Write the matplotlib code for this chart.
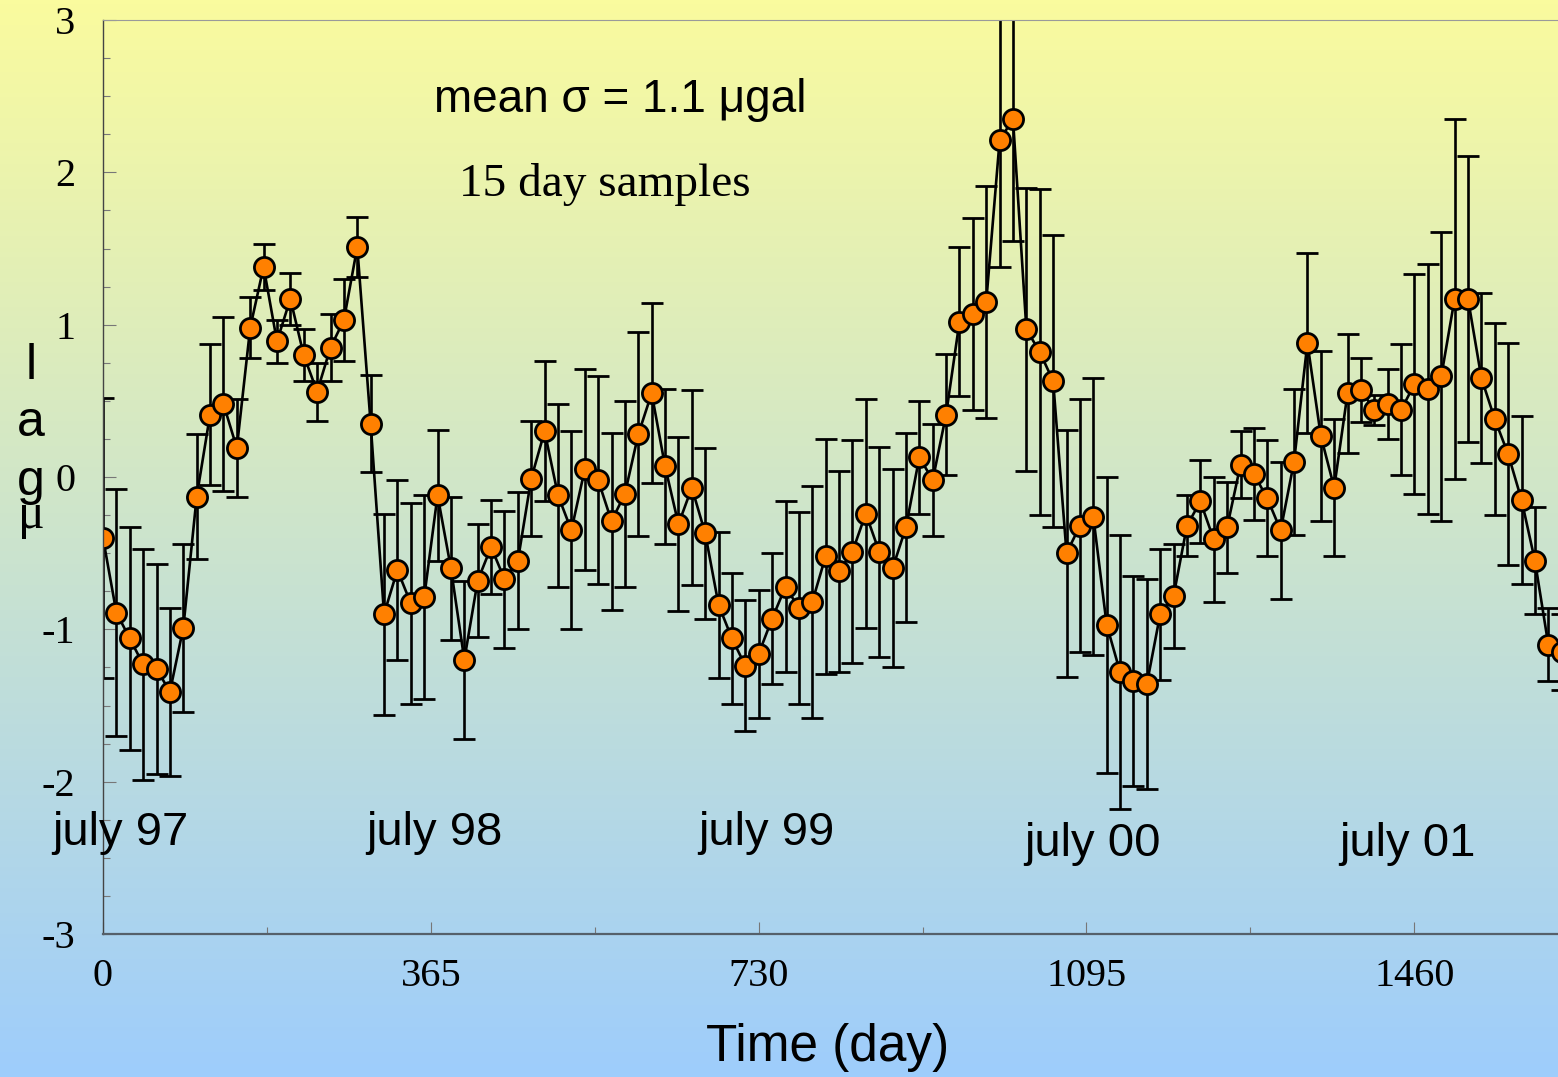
import numpy as np
import matplotlib.pyplot as plt
import matplotlib.ticker as tck

plt.rcParams["axes.unicode_minus"] = False

# gravity residual, 15 day samples
gravity = [
    -0.40, -0.89, -1.06, -1.23, -1.26, -1.41, -0.99, -0.13, 0.41, 0.48,
    0.19, 0.98, 1.38, 0.89, 1.17, 0.80, 0.56, 0.85, 1.03, 1.51,
    0.35, -0.90, -0.61, -0.83, -0.79, -0.12, -0.60, -1.20, -0.68, -0.46,
    -0.67, -0.55, -0.01, 0.30, -0.12, -0.35, 0.05, -0.02, -0.29, -0.11,
    0.28, 0.55, 0.07, -0.31, -0.07, -0.37, -0.84, -1.06, -1.24, -1.16,
    -0.93, -0.72, -0.86, -0.82, -0.52, -0.62, -0.49, -0.24, -0.49, -0.60,
    -0.33, 0.13, -0.02, 0.41, 1.02, 1.07, 1.15, 2.21, 2.35, 0.97,
    0.82, 0.63, -0.50, -0.32, -0.26, -0.97, -1.28, -1.34, -1.36, -0.90,
    -0.78, -0.32, -0.16, -0.41, -0.33, 0.08, 0.02, -0.14, -0.35, 0.10,
    0.88, 0.27, -0.07, 0.55, 0.57, 0.44, 0.48, 0.44, 0.61, 0.58,
    0.66, 1.17, 1.17, 0.65, 0.38, 0.15, -0.15, -0.55, -1.10, -1.15,
]
sigma = [
    0.92, 0.81, 0.73, 0.76, 0.69, 0.55, 0.55, 0.41, 0.46, 0.57,
    0.32, 0.20, 0.15, 0.14, 0.17, 0.17, 0.19, 0.22, 0.27, 0.20,
    0.32, 0.66, 0.59, 0.66, 0.67, 0.43, 0.47, 0.52, 0.37, 0.31,
    0.45, 0.45, 0.38, 0.46, 0.60, 0.65, 0.66, 0.68, 0.58, 0.61,
    0.67, 0.59, 0.51, 0.57, 0.64, 0.56, 0.48, 0.43, 0.43, 0.42,
    0.43, 0.56, 0.63, 0.76, 0.77, 0.66, 0.73, 0.75, 0.69, 0.65,
    0.62, 0.37, 0.37, 0.40, 0.49, 0.63, 0.76, 0.83, 0.80, 0.93,
    1.07, 0.96, 0.81, 0.83, 0.91, 0.97, 0.90, 0.69, 0.69, 0.43,
    0.34, 0.20, 0.27, 0.41, 0.30, 0.22, 0.30, 0.38, 0.45, 0.48,
    0.59, 0.56, 0.45, 0.39, 0.21, 0.10, 0.23, 0.43, 0.72, 0.82,
    0.95, 1.18, 0.94, 0.56, 0.63, 0.73, 0.55, 0.35, 0.24, 0.25,
]
SAMPLE_STEP = 14.9  # measured spacing of the samples on the day axis
days = np.arange(len(gravity)) * SAMPLE_STEP

xticks = [0, 365, 730, 1095, 1460]
yticks = [-3, -2, -1, 0, 1, 2, 3]
year_labels = ["july 97", "july 98", "july 99", "july 00", "july 01"]
year_label_px = [(120, 833), (434, 833), (766, 833), (1092, 844), (1407, 844)]

W, H = 1558, 1077
fig = plt.figure(figsize=(W / 100, H / 100), dpi=100)

## background gradient yellow -> light blue
bg = fig.add_axes([0, 0, 1, 1], zorder=-1)
top = np.array([250, 251, 158]) / 255
bottom = np.array([158, 205, 252]) / 255
t = np.linspace(0, 1, 256)[:, None]
grad = top[None, :] * (1 - t) + bottom[None, :] * t
bg.imshow(grad[:, None, :], aspect="auto", extent=[0, 1, 0, 1])
bg.axis("off")

## main axes
ax = fig.add_axes([103 / W, 1 - 934 / H, (W - 103) / W, (934 - 20) / H])
ax.patch.set_alpha(0)
ax.errorbar(
    days, gravity, yerr=sigma,
    fmt="-o", color="black", lw=1.9, elinewidth=1.9,
    capsize=8, capthick=1.9,
    mfc="#ff8000", mec="black", ms=14.5, mew=2.0,
)
ax.set_xlim(0, 1620)
ax.set_ylim(-3, 3)

ax.set_xticks(xticks)
ax.set_yticks(yticks)
ax.xaxis.set_minor_locator(tck.MultipleLocator(182.5))
ax.yaxis.set_minor_locator(tck.MultipleLocator(0.25))
ax.tick_params(which="major", direction="in", length=9, width=0.8, color="#777777")
ax.tick_params(which="minor", direction="in", length=5, width=0.8, color="#777777")
ax.tick_params(axis="y", pad=20)
ax.tick_params(axis="x", pad=17)
for lab in ax.get_xticklabels() + ax.get_yticklabels():
    lab.set_fontfamily("Liberation Serif")
    lab.set_fontsize(29)

ax.spines["right"].set_visible(False)
ax.spines["top"].set_color("#9a9a9a")
ax.spines["top"].set_linewidth(0.8)
ax.spines["left"].set_color("#444444")
ax.spines["left"].set_linewidth(1.0)
ax.spines["bottom"].set_color("#55606a")
ax.spines["bottom"].set_linewidth(1.6)

## annotations
fig.text(620 / W, 1 - 100 / H, "mean σ = 1.1 μgal", family="Liberation Sans",
         fontsize=33, ha="center", va="center")
fig.text(605 / W, 1 - 184 / H, "15 day samples", family="Liberation Serif",
         fontsize=34, ha="center", va="center")
for lab, (px, py) in zip(year_labels, year_label_px):
    fig.text(px / W, 1 - py / H, lab, family="Liberation Sans",
             fontsize=34, ha="center", va="center")

fig.text(828 / W, 1 - 1048 / H, "Time (day)", family="Liberation Sans",
         fontsize=37, ha="center", va="center")

## stacked y label (letters drawn upright, bottom to top)
for ch, py, fam in [("l", 366, "Liberation Sans"), ("a", 423, "Liberation Sans"),
                    ("g", 482, "Liberation Sans"), ("μ", 516, "Liberation Serif")]:
    fig.text(31 / W, 1 - py / H, ch, family=fam, fontsize=36,
             ha="center", va="center")

fig.savefig("out.png", dpi=100)
